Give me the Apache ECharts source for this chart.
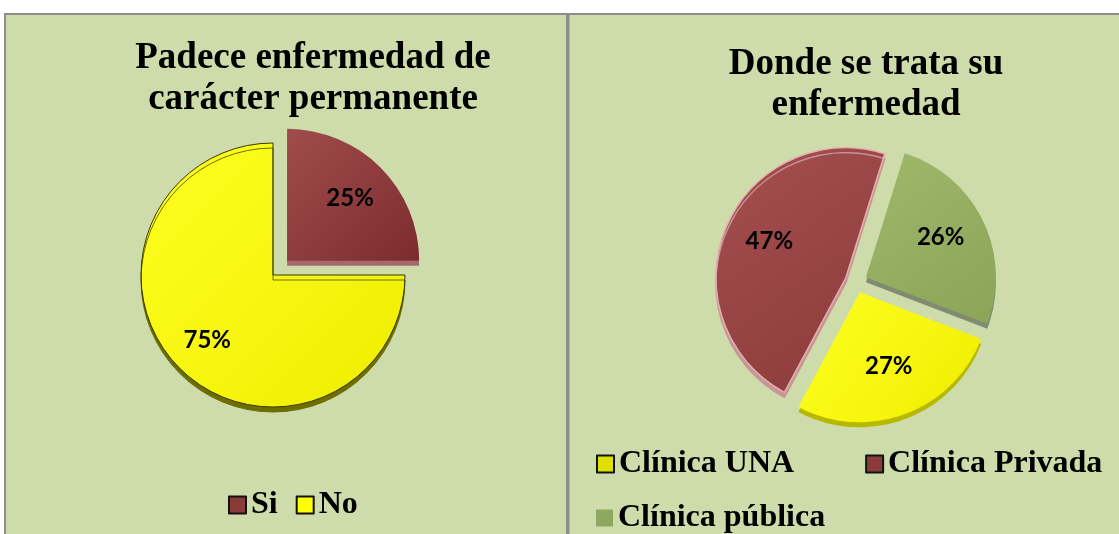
<!DOCTYPE html>
<html>
<head>
<meta charset="utf-8">
<script src="https://cdn.jsdelivr.net/npm/echarts@6/dist/echarts.min.js"></script>
<style>
html,body{margin:0;padding:0;background:#fff;}
#chart{width:1119px;height:534px;}
</style>
</head>
<body>
<div id="chart"></div>
<script>
// ---- data ----
const leftTitle = 'Padece enfermedad de\ncarácter permanente';
const leftCategories = ['Si', 'No'];
const leftValues = [25, 75];
const leftExploded = [true, false];

const rightTitle = 'Donde se trata su\nenfermedad';
const rightCategories = ['Clínica UNA', 'Clínica Privada', 'Clínica pública'];
const rightValues = [27, 47, 26];
const rightExploded = [true, true, true];

// ---- styles ----
function grad(c1, c2) {
  return new echarts.graphic.LinearGradient(0, 0, 1, 1, [
    { offset: 0, color: c1 }, { offset: 1, color: c2 }
  ]);
}
const styleMap = {
  'Si': { color: grad('#a04c4c', '#7c2c2e'), shadowColor: '#a66a6c', borderColor: 'rgba(0,0,0,0)', borderWidth: 0 },
  'No': { color: grad('#ffff22', '#eeee00'), shadowColor: '#6e6e00', borderColor: '#3a3a00', borderWidth: 1 },
  'Clínica UNA': { color: grad('#ffff22', '#eeee00'), shadowColor: '#b8b800', borderColor: 'rgba(0,0,0,0)', borderWidth: 0 },
  'Clínica Privada': { color: grad('#a64f4f', '#8a3a3a'), shadowColor: '#c79595', borderColor: '#e6b0b0', borderWidth: 1.5 },
  'Clínica pública': { color: grad('#9fb86a', '#8aa458'), shadowColor: '#7f8c70', borderColor: 'rgba(0,0,0,0)', borderWidth: 0 }
};
const legendIcon = {
  'Si': { color: '#8b3a3a', borderColor: '#111', borderWidth: 2 },
  'No': { color: '#ffff00', borderColor: '#111', borderWidth: 2 },
  'Clínica UNA': { color: '#e0e000', borderColor: '#111', borderWidth: 2 },
  'Clínica Privada': { color: '#8b3a3a', borderColor: '#111', borderWidth: 2 },
  'Clínica pública': { color: '#8fa860', borderColor: '#cddcaa', borderWidth: 0 }
};

function pieData(cats, vals, exploded) {
  return cats.map((c, i) => {
    const s = styleMap[c];
    const st = { color: s.color, borderColor: s.borderColor, borderWidth: s.borderWidth,
      shadowColor: s.shadowColor, shadowOffsetY: 5, shadowOffsetX: 0, shadowBlur: 0 };
    return { name: c, value: vals[i], selected: exploded[i], itemStyle: st, select: { itemStyle: st } };
  });
}
function labelData(cats, vals, exploded) {
  return cats.map((c, i) => ({
    name: c, value: vals[i], selected: exploded[i],
    itemStyle: { color: 'rgba(0,0,0,0)' },
    select: { itemStyle: { color: 'rgba(0,0,0,0)', borderWidth: 0 } }
  }));
}
function legendData(cats) {
  return cats.map(c => ({ name: c, itemStyle: legendIcon[c] }));
}

const titleFont = { fontFamily: 'Liberation Serif', fontWeight: 'bold', fontSize: 37, lineHeight: 41, color: '#000' };
const legendFont = { fontFamily: 'Liberation Serif', fontWeight: 'bold', fontSize: 32, color: '#000' };
const labelFont = { fontFamily: 'Lato', fontWeight: 'bold', fontSize: 24, color: '#000' };

const chart = echarts.init(document.getElementById('chart'), null, { renderer: 'canvas' });
chart.setOption({
  animation: false,
  backgroundColor: '#ffffff',
  graphic: [
    { type: 'rect', z: -10, shape: { x: 5, y: 14, width: 562, height: 540 }, style: { fill: '#cddcaa', stroke: '#8c8c8c', lineWidth: 2 } },
    { type: 'rect', z: -10, shape: { x: 568.5, y: 14, width: 560, height: 540 }, style: { fill: '#cddcaa', stroke: '#8c8c8c', lineWidth: 2 } }
  ],
  title: [
    { text: leftTitle, left: 308, top: 33, textAlign: 'center', textStyle: titleFont },
    { text: rightTitle, left: 861, top: 39, textAlign: 'center', textStyle: titleFont }
  ],
  legend: [
    { data: legendData(leftCategories), left: 228, top: 489, padding: 0, icon: 'rect', itemWidth: 17, itemHeight: 17, itemGap: 18, textStyle: legendFont, selectedMode: false },
    { data: legendData(rightCategories.slice(0, 2)), left: 596, top: 448, padding: 0, icon: 'rect', itemWidth: 17, itemHeight: 17, itemGap: 71, textStyle: legendFont, selectedMode: false },
    { data: legendData(rightCategories.slice(2)), left: 596, top: 502, padding: 0, icon: 'rect', itemWidth: 17, itemHeight: 17, itemGap: 20, textStyle: legendFont, selectedMode: false }
  ],
  series: [
    { type: 'pie', name: 'left', center: [273, 275], radius: [0, 132], startAngle: 90, clockwise: true,
      selectedMode: 'multiple', selectedOffset: 20, silent: true, label: { show: false }, labelLine: { show: false },
      emphasis: { disabled: true }, data: pieData(leftCategories, leftValues, leftExploded) },
    { type: 'pie', name: 'leftLabels', center: [273, 275], radius: [0, 180], startAngle: 90, clockwise: true,
      selectedMode: 'multiple', selectedOffset: 16, silent: true, z: 5, legendHoverLink: false,
      label: Object.assign({ show: true, position: 'inside', formatter: '{c}%' }, labelFont), labelLine: { show: false },
      emphasis: { disabled: true }, data: labelData(leftCategories, leftValues, leftExploded) },
    { type: 'pie', name: 'right', center: [856, 282], radius: [0, 130], startAngle: -21, clockwise: true,
      selectedMode: 'multiple', selectedOffset: 11, silent: true, label: { show: false }, labelLine: { show: false },
      emphasis: { disabled: true }, data: pieData(rightCategories, rightValues, rightExploded) },
    { type: 'pie', name: 'rightLabels', center: [856, 278], radius: [0, 166], startAngle: -21, clockwise: true,
      selectedMode: 'multiple', selectedOffset: 8, silent: true, z: 5,
      label: Object.assign({ show: true, position: 'inside', formatter: '{c}%' }, labelFont), labelLine: { show: false },
      emphasis: { disabled: true }, data: labelData(rightCategories, rightValues, rightExploded) }
  ]
});
</script>
</body>
</html>
